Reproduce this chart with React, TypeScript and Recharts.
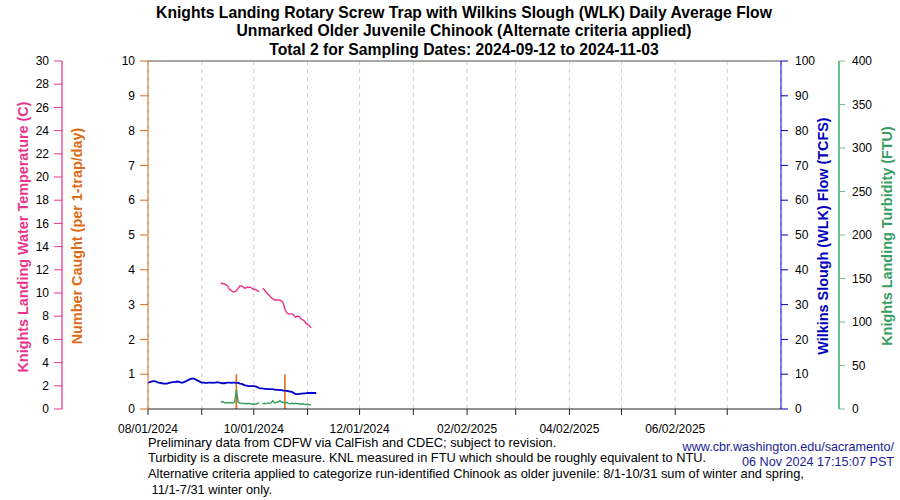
import React from 'react';
import { ComposedChart, Line, Bar, XAxis, YAxis, CartesianGrid, ReferenceLine } from 'recharts';

// ---------- data ----------
const seriesStart = '2024-08-01';
// Wilkins Slough daily average flow (TCFS), one value per day from seriesStart
const flowTCFS = [
  7.5, 7.7, 7.9, 8.0, 8.0, 7.8, 7.6, 7.5, 7.4, 7.3,
  7.3, 7.3, 7.5, 7.6, 7.7, 7.7, 7.8, 7.9, 7.8, 7.6,
  7.6, 7.8, 8.0, 8.3, 8.5, 8.7, 8.8, 8.6, 8.3, 8.1,
  7.8, 7.6, 7.6, 7.5, 7.5, 7.6, 7.6, 7.5, 7.6, 7.6,
  7.7, 7.6, 7.5, 7.4, 7.4, 7.5, 7.6, 7.6, 7.5, 7.6,
  7.6, 7.5, 7.5, 7.3, 7.2, 7.0, 6.8, 6.7, 6.6, 6.6,
  6.6, 6.6, 6.5, 6.3, 6.0, 5.9, 5.9, 5.8, 5.8, 5.7,
  5.7, 5.7, 5.7, 5.6, 5.5, 5.5, 5.4, 5.4, 5.3, 5.3,
  5.2, 5.1, 5.0, 4.9, 4.6, 4.3, 4.3, 4.3, 4.4, 4.4,
  4.5, 4.5, 4.6, 4.6, 4.6, 4.6, 4.6, 4.6,
];

const sampleStart = '2024-09-12';
// Knights Landing water temperature (C), daily from sampleStart
const waterTempC = [
  10.9, 10.8, 10.8, 10.7, 10.6, 10.3, 10.2, 10.1, 10.1, 10.2,
  10.4, 10.6, 10.6, 10.5, 10.4, 10.5, 10.5, 10.5, 10.4,
  10.3, 10.3, 10.2, 10.1, null, 10.4, 10.3, 10.1, 9.9, 9.8,
  9.6, 9.5, 9.4, 9.4, 9.4, 9.4, 9.3, 9.1, 8.6, 8.3,
  8.2, 8.2, 8.2, 8.1, 7.9, 8.0, 8.0, 7.8, 7.7, 7.6, 7.4,
  7.3, 7.2, 7.0,
];
// Knights Landing turbidity (FTU), daily from sampleStart
const turbidityFTU = [
  7.5, 8.5, 7.5, 7.0, 7.5, 7.0, 7.5, 7.0, 8.0, 22.0,
  8.0, 6.5, 7.0, 6.0, 6.5, 6.0, 6.5, 6.0, 5.5,
  6.0, 5.5, 6.0, 7.5, null, 6.0, 6.5, 6.0, 7.0, 6.5,
  7.0, 9.5, 7.0, 7.5, 8.0, 9.5, 8.0, 7.5, 7.0, 7.5,
  6.5, 6.0, 6.5, 6.0, 6.5, 6.0, 6.0, 5.5, 6.0, 5.5, 5.0,
  5.5, 5.0, 4.5,
];

const catchDates = ['2024-09-21', '2024-10-19'];
const catchCounts = [1, 1];

const xDomainDates = ['2024-08-01', '2025-08-01'];
const monthTicks = [
  '2024-08-01', '2024-09-01', '2024-10-01', '2024-11-01', '2024-12-01', '2025-01-01',
  '2025-02-01', '2025-03-01', '2025-04-01', '2025-05-01', '2025-06-01', '2025-07-01',
];
const monthTickLabels = [
  '08/01/2024', '', '10/01/2024', '', '12/01/2024', '',
  '02/02/2025', '', '04/02/2025', '', '06/02/2025', '',
];
const numberTicks = [0, 1, 2, 3, 4, 5, 6, 7, 8, 9, 10];
const tempTicks = [0, 2, 4, 6, 8, 10, 12, 14, 16, 18, 20, 22, 24, 26, 28, 30];
const flowTicks = [0, 10, 20, 30, 40, 50, 60, 70, 80, 90, 100];
const turbTicks = [0, 50, 100, 150, 200, 250, 300, 350, 400];

const titleLines = [
  'Knights Landing Rotary Screw Trap with Wilkins Slough (WLK) Daily Average Flow',
  'Unmarked Older Juvenile Chinook (Alternate criteria applied)',
  'Total 2 for Sampling Dates: 2024-09-12 to 2024-11-03',
];
const footnoteLines = [
  'Preliminary data from CDFW via CalFish and CDEC; subject to revision.',
  'Turbidity is a discrete measure. KNL measured in FTU which should be roughly equivalent to NTU.',
  'Alternative criteria applied to categorize run-identified Chinook as older juvenile: 8/1-10/31 sum of winter and spring,',
  '\u00a011/1-7/31 winter only.',
];
const creditLines = ['www.cbr.washington.edu/sacramento/', '06 Nov 2024 17:15:07 PST'];

const axisTitles = {
  temp: 'Knights Landing Water Temperature (C)',
  num: 'Number Caught (per 1-trap/day)',
  flow: 'Wilkins Slough (WLK) Flow (TCFS)',
  turb: 'Knights Landing Turbidity (FTU)',
};

// ---------- build table ----------
const DAY = 86400000;
const toT = (s: string) => Date.parse(s + 'T00:00:00Z');
const t0 = toT(seriesStart);
const sOff = Math.round((toT(sampleStart) - t0) / DAY);
const catchMap: Record<number, number> = {};
catchDates.forEach((d, i) => { catchMap[toT(d)] = catchCounts[i]; });

const data = flowTCFS.map((f, i) => {
  const t = t0 + i * DAY;
  const j = i - sOff;
  const temp = j >= 0 && j < waterTempC.length ? waterTempC[j] : null;
  const turb = j >= 0 && j < turbidityFTU.length ? turbidityFTU[j] : null;
  return { t, flow: f, temp, turb, caught: catchMap[t] ?? null };
});

const tickTs = monthTicks.map(toT);
const labelFor = (v: number) => {
  const k = tickTs.indexOf(v);
  return k >= 0 ? monthTickLabels[k] : '';
};

const FONT = '"Liberation Sans", Arial, Helvetica, sans-serif';
const PINK = '#e8358c';
const PINK_AXIS = '#f27fb8';
const ORANGE = '#de6a14';
const BLUE = '#0000cc';
const GREEN = '#3a9e62';
const GREEN_AXIS = '#6dbf8b';
const tickStyle = { fill: '#000', fontSize: 12, fontFamily: FONT };

const XTick = (props: any) => {
  const { x, y, payload } = props;
  const label = labelFor(payload.value);
  if (!label) return <g />;
  return (
    <text x={x} y={y + 8} textAnchor="middle" fill="#000" fontSize={12} fontFamily={FONT}>{label}</text>
  );
};

const abs = (x: number, y: number, extra: React.CSSProperties = {}): React.CSSProperties => ({
  position: 'absolute', left: x, top: y, whiteSpace: 'pre', fontFamily: FONT, ...extra,
});

const AXT = 14.4;

export default function App() {
  return (
    <div style={{ position: 'absolute', left: 0, top: 0, width: 900, height: 500, background: '#fff', overflow: 'hidden' }}>
      <ComposedChart
        width={900}
        height={500}
        data={data}
        margin={{ top: 61, right: 0, bottom: 61, left: 0 }}
      >
        <CartesianGrid yAxisId="num" horizontal={false} stroke="#cccccc" strokeDasharray="4 4" />
        <XAxis
          dataKey="t"
          type="number"
          domain={[toT(xDomainDates[0]), toT(xDomainDates[1])]}
          ticks={tickTs}
          interval={0}
          tick={<XTick />}
          tickSize={6}
          tickMargin={10}
          height={30}
          stroke="#222"
          allowDataOverflow
        />
        <YAxis
          yAxisId="num"
          orientation="left"
          width={86}
          domain={[0, 10]}
          ticks={numberTicks}
          interval={0}
          tick={tickStyle}
          tickSize={8}
          tickMargin={5}
          stroke={ORANGE}
        />
        <YAxis
          yAxisId="temp"
          orientation="left"
          width={62}
          domain={[0, 30]}
          ticks={tempTicks}
          interval={0}
          tick={tickStyle}
          tickSize={8}
          tickMargin={5}
          axisLine={{ stroke: PINK_AXIS, strokeWidth: 2 }}
          tickLine={{ stroke: PINK }}
        />
        <YAxis
          yAxisId="flow"
          orientation="right"
          width={58}
          domain={[0, 100]}
          ticks={flowTicks}
          interval={0}
          tick={tickStyle}
          tickSize={7}
          tickMargin={7}
          stroke={BLUE}
        />
        <YAxis
          yAxisId="turb"
          orientation="right"
          width={61}
          domain={[0, 400]}
          ticks={turbTicks}
          interval={0}
          tick={tickStyle}
          tickSize={6}
          tickMargin={7}
          axisLine={{ stroke: GREEN_AXIS, strokeWidth: 2 }}
          tickLine={{ stroke: GREEN_AXIS }}
        />
        <ReferenceLine yAxisId="num" y={10} stroke="#888" strokeWidth={1.5} />
        <Line yAxisId="flow" dataKey="flow" stroke={BLUE} strokeWidth={1.8} dot={false} isAnimationActive={false} />
        <Line yAxisId="turb" dataKey="turb" stroke={GREEN} strokeWidth={1.4} dot={false} isAnimationActive={false} />
        <Line yAxisId="temp" dataKey="temp" stroke={PINK} strokeWidth={1.4} dot={false} isAnimationActive={false} />
        <Bar yAxisId="num" dataKey="caught" fill={ORANGE} barSize={2} isAnimationActive={false} />
      </ComposedChart>

      {titleLines.map((s, i) => (
        <div key={i} style={abs(464, [13, 31, 50][i], { transform: 'translate(-50%,-50%)', fontWeight: 'bold', fontSize: 15.7 })}>{s}</div>
      ))}

      <div style={abs(23, 237, { transform: 'translate(-50%,-50%) rotate(-90deg)', fontWeight: 'bold', fontSize: AXT, color: PINK })}>{axisTitles.temp}</div>
      <div style={abs(77, 236, { transform: 'translate(-50%,-50%) rotate(-90deg)', fontWeight: 'bold', fontSize: AXT, color: ORANGE })}>{axisTitles.num}</div>
      <div style={abs(823, 236, { transform: 'translate(-50%,-50%) rotate(-90deg)', fontWeight: 'bold', fontSize: AXT, color: '#0000bb' })}>{axisTitles.flow}</div>
      <div style={abs(887, 236, { transform: 'translate(-50%,-50%) rotate(-90deg)', fontWeight: 'bold', fontSize: AXT, color: GREEN })}>{axisTitles.turb}</div>

      {footnoteLines.map((s, i) => (
        <div key={i} style={abs(148, [443, 458, 474, 490][i], { transform: 'translateY(-50%)', fontSize: 12.8, lineHeight: 1, color: '#000' })}>{s}</div>
      ))}
      {creditLines.map((s, i) => (
        <div key={i} style={abs(894, [447, 462][i], { transform: 'translate(-100%,-50%)', fontSize: 12.6, lineHeight: 1, color: '#1c1c9a' })}>{s}</div>
      ))}
    </div>
  );
}
